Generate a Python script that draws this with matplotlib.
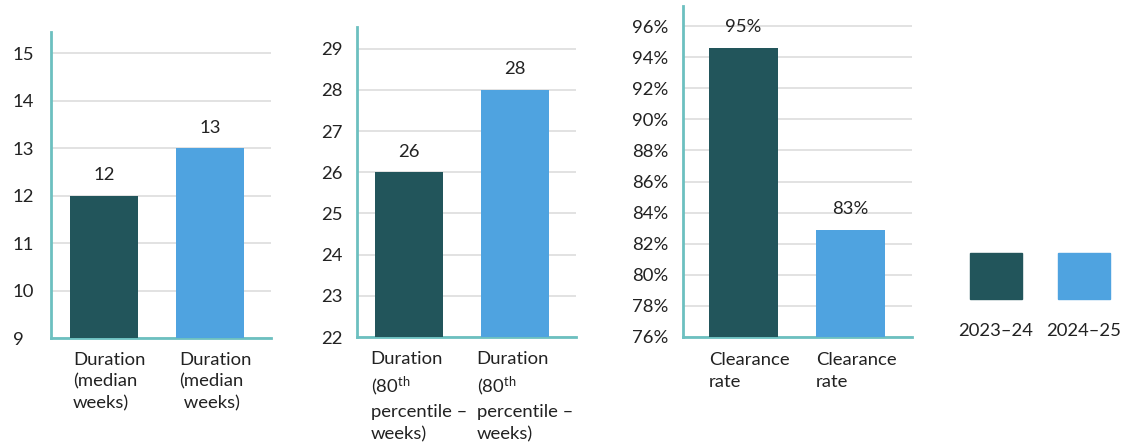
import matplotlib
matplotlib.use("Agg")
import matplotlib.pyplot as plt
from matplotlib.patches import Rectangle
from matplotlib.transforms import blended_transform_factory

plt.rcParams['font.family'] = ['Lato', 'DejaVu Sans']
plt.rcParams['mathtext.fontset'] = 'custom'
plt.rcParams['mathtext.rm'] = 'Lato'
plt.rcParams['mathtext.it'] = 'Lato'

# ---- data ----
series = ["2023\u201324", "2024\u201325"]
colors = ["#22555B", "#4FA3E0"]

median_labels = ["Duration\n(median\nweeks)", "Duration\n(median\n weeks)"]
median_values = [12, 13]
median_ticks = [9, 10, 11, 12, 13, 14, 15]

p80_labels = ["Duration\n(80$^{\\mathregular{th}}$\npercentile \u2013\nweeks)",
              "Duration\n(80$^{\\mathregular{th}}$\npercentile \u2013\nweeks)"]
p80_values = [26, 28]
p80_ticks = [22, 23, 24, 25, 26, 27, 28, 29]

clear_labels = ["Clearance\nrate", "Clearance\nrate"]
clear_values = [94.6, 82.9]
clear_ticks = [76, 78, 80, 82, 84, 86, 88, 90, 92, 94, 96]

W, H = 1128, 448
fig = plt.figure(figsize=(W / 100, H / 100), dpi=100)

TEXT = "#222222"
SPINE = "#6CC0C0"
GRID = "#DDDDDD"
FS = 13.3


def panel(rect_px, values, labels, ticks, ylim, xlim, width, pad, fmt, lbl_fmt, xoff):
    l, t, r, b = rect_px
    ax = fig.add_axes([l / W, 1 - b / H, (r - l) / W, (b - t) / H])
    x = list(range(len(values)))
    bars = ax.bar(x, values, width=width, color=colors, zorder=3)
    ax.set_ylim(*ylim)
    ax.set_xlim(*xlim)
    ax.set_yticks(ticks)
    ax.set_yticklabels([fmt(v) for v in ticks], ha='left')
    ax.tick_params(axis='y', length=0, pad=pad, labelsize=FS, labelcolor=TEXT)
    ax.set_xticks([])
    ax.grid(axis='y', color=GRID, linewidth=1.2, zorder=0)
    for s in ['top', 'right']:
        ax.spines[s].set_visible(False)
    for s in ['left', 'bottom']:
        ax.spines[s].set_color(SPINE)
        ax.spines[s].set_linewidth(2)
    for rect, v in zip(bars, values):
        ax.annotate(lbl_fmt(v), (rect.get_x() + rect.get_width() / 2, v),
                    xytext=(0, 9), textcoords='offset points',
                    ha='center', va='bottom', fontsize=FS, color=TEXT)
    tr = blended_transform_factory(ax.transData, ax.transAxes)
    for xi, lab in zip(x, labels):
        ax.text(xi - width / 2 + xoff, -0.045, lab, transform=tr, ha='left', va='top',
                fontsize=FS, color=TEXT, linespacing=1.45)
    return ax


panel((51, 32, 271, 338), median_values, median_labels, median_ticks,
      (9, 15.45), (-0.5, 1.575), 0.642, 27.5,
      lambda v: f"{v}", lambda v: f"{v:.0f}", 0.03)
panel((357, 27, 576, 337), p80_values, p80_labels, p80_ticks,
      (22, 29.53), (-0.49, 1.575), 0.642, 26,
      lambda v: f"{v}", lambda v: f"{v:.0f}", -0.04)
panel((683, 6, 912, 337), clear_values, clear_labels, clear_ticks,
      (76, 97.29), (-0.565, 1.575), 0.645, 36.5,
      lambda v: f"{v}%", lambda v: f"{v:.0f}%", 0.0)

# ---- legend ----
lax = fig.add_axes([0, 0, 1, 1], facecolor='none')
lax.set_xlim(0, W)
lax.set_ylim(H, 0)
lax.axis('off')
for i, (name, c) in enumerate(zip(series, colors)):
    x0 = 970 + i * 88
    lax.add_patch(Rectangle((x0, 253), 52, 46, color=c))
    lax.text(x0 + 26, 331, name, ha='center', va='center', fontsize=FS, color=TEXT)

fig.savefig("out.png", dpi=100)
